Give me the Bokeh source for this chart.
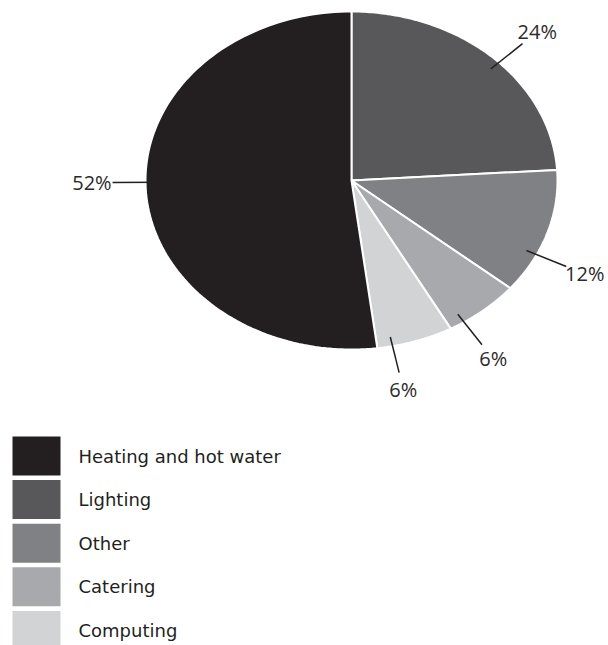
import numpy as np
from bokeh.plotting import figure
from bokeh.models import Range1d
from bokeh.core.properties import value
from bokeh.embed import file_html
from bokeh.resources import INLINE

# Energy use by end use (share of total, %), clockwise from 12 o'clock
categories = ["Lighting", "Other", "Catering", "Computing", "Heating and hot water"]
shares = [24, 12, 6, 6, 52]
colors = ["#58585a", "#808184", "#a7a9ac", "#d1d3d4", "#231f20"]

# Legend order
legend_order = ["Heating and hot water", "Lighting", "Other", "Catering", "Computing"]

W, H = 608, 645
p = figure(width=W, height=H, output_backend="svg", toolbar_location=None,
           x_range=Range1d(0, W), y_range=Range1d(H, 0),
           min_border=0, outline_line_color=None)
p.axis.visible = False
p.grid.visible = False
p.background_fill_color = "white"
p.border_fill_color = "white"

# Pie drawn as an ellipse
cx, cy, rx, ry = 351, 180, 206, 169
# small angular nudge (degrees) for each leader line
nudge = [-2.5, -8, -6.5, -6.5, -3]

total = float(sum(shares))
cum = np.concatenate([[0.0], np.cumsum(shares)]) / total
# clockwise from top: standard angle = 90 - 360*fraction
start_deg = 90 - 360 * cum[:-1]
end_deg = 90 - 360 * cum[1:]

xs, ys = [], []
for a0, a1 in zip(start_deg, end_deg):
    t = np.radians(np.linspace(a0, a1, 120))
    xs.append([cx] + list(cx + rx * np.cos(t)) + [cx])
    ys.append([cy] + list(cy - ry * np.sin(t)) + [cy])

p.patches(xs=xs, ys=ys, fill_color=colors, line_color="white", line_width=2)

# Leader lines and percentage labels
lx0, ly0, lx1, ly1, tx, ty, labels = [], [], [], [], [], [], []
for i, (a0, a1) in enumerate(zip(start_deg, end_deg)):
    mid = np.radians((a0 + a1) / 2 + nudge[i])
    c, s = np.cos(mid), np.sin(mid)
    lx0.append(cx + 0.945 * rx * c); ly0.append(cy - 0.945 * ry * s)
    lx1.append(cx + 1.16 * rx * c); ly1.append(cy - 1.16 * ry * s)
    tx.append(cx + 1.26 * rx * c); ty.append(cy - 1.26 * ry * s)
    labels.append(f"{shares[i]}%")

p.segment(x0=lx0, y0=ly0, x1=lx1, y1=ly1, line_color="#231f20", line_width=1.5)
p.text(x=tx, y=ty, text=labels, text_font=value("Open Sans"),
       text_font_size="20px", text_color="#2b2b2b",
       text_align="center", text_baseline="middle")

# Legend
row_top, row_pitch, box_w, box_h, box_x = 436, 43.6, 48, 39, 12
leg_colors = [colors[categories.index(c)] for c in legend_order]
tops = [row_top + k * row_pitch for k in range(len(legend_order))]
p.quad(left=[box_x] * len(tops), right=[box_x + box_w] * len(tops),
       top=tops, bottom=[t + box_h for t in tops],
       fill_color=leg_colors, line_color=None)
p.text(x=[78] * len(tops), y=[t + box_h / 2 for t in tops], text=legend_order,
       text_font=value("DejaVu Sans"), text_font_size="18px",
       text_color="#231f20", text_align="left", text_baseline="middle")

open("out.html", "w").write(file_html(p, INLINE))
